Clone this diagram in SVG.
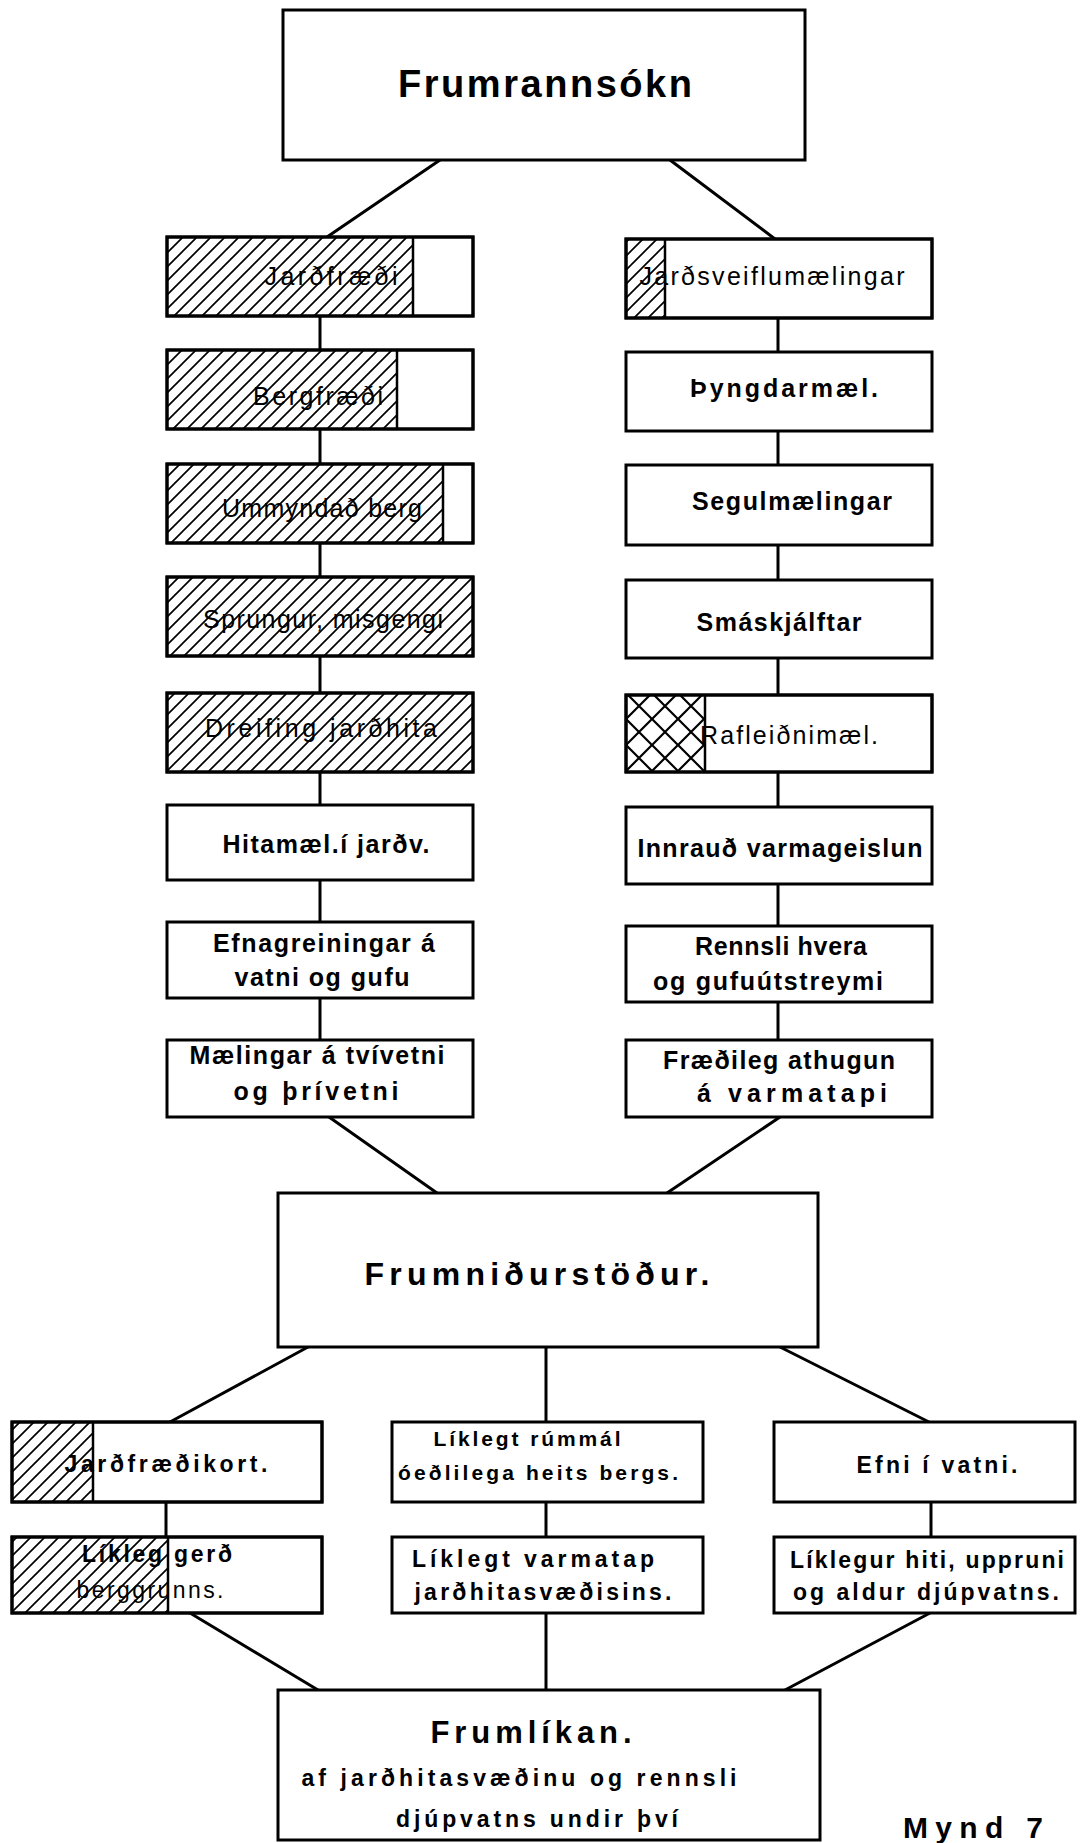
<svg xmlns="http://www.w3.org/2000/svg" width="1082" height="1843" viewBox="0 0 1082 1843">
<defs>
<pattern id="hatch" patternUnits="userSpaceOnUse" width="14" height="14">
<path d="M-2,16 L16,-2 M-9,9 L9,-9 M5,23 L23,5" stroke="#000" stroke-width="1.7" fill="none"/>
</pattern>
<pattern id="cross" patternUnits="userSpaceOnUse" x="626" y="693" width="26" height="26">
<path d="M0,0 L26,26 M26,0 L0,26" stroke="#000" stroke-width="2.2" fill="none"/>
</pattern>
<style>
.box{fill:#fff;stroke:#000;stroke-width:3}
.sep{stroke:#000;stroke-width:2.5}
.c{stroke:#000;stroke-width:3;fill:none;stroke-linecap:round}
text{font-family:"Liberation Sans",Arial,sans-serif;font-weight:bold;font-size:25px;text-anchor:middle;fill:#000}
.n{font-weight:normal}
.s{font-size:23px}
.xs{font-size:21px}
</style>
</defs>
<rect width="1082" height="1843" fill="#fff"/>

<g id="connectors">
<path class="c" d="M440,160 L327,237"/>
<path class="c" d="M670,160 L775,239"/>
<path class="c" d="M320,316 V350 M320,429 V464 M320,543 V577 M320,656 V693 M320,772 V805 M320,880 V922 M320,998 V1040"/>
<path class="c" d="M778,318 V352 M778,431 V465 M778,545 V580 M778,658 V695 M778,772 V807 M778,884 V926 M778,1002 V1040"/>
<path class="c" d="M329,1117 L437,1193"/>
<path class="c" d="M780,1117 L667,1193"/>
<path class="c" d="M308,1347 L170,1422"/>
<path class="c" d="M546,1347 V1422"/>
<path class="c" d="M780,1347 L929,1422"/>
<path class="c" d="M166,1502 V1537 M546,1502 V1537 M931,1502 V1537"/>
<path class="c" d="M190,1613 L318,1690"/>
<path class="c" d="M546,1613 V1690"/>
<path class="c" d="M930,1613 L785,1690"/>
</g>

<g id="frumrannsokn">
<rect class="box" x="283" y="10" width="522" height="150"/>
<text x="545" y="97" style="font-size:38px" textLength="294" lengthAdjust="spacing">Frumrannsókn</text>
</g>

<g id="jardfraedi">
<rect class="box" x="167" y="237" width="306" height="79"/>
<rect x="167" y="237" width="246" height="79" fill="url(#hatch)"/>
<line class="sep" x1="413" y1="237" x2="413" y2="316"/>
<rect x="167" y="237" width="306" height="79" fill="none" stroke="#000" stroke-width="3"/>
<text class="n" x="331" y="285" textLength="133" lengthAdjust="spacing">Jarðfræði</text>
</g>
<g id="bergfraedi">
<rect class="box" x="167" y="350" width="306" height="79"/>
<rect x="167" y="350" width="230" height="79" fill="url(#hatch)"/>
<line class="sep" x1="397" y1="350" x2="397" y2="429"/>
<rect x="167" y="350" width="306" height="79" fill="none" stroke="#000" stroke-width="3"/>
<text class="n" x="318" y="405" textLength="130" lengthAdjust="spacing">Bergfræði</text>
</g>
<g id="ummyndad">
<rect class="box" x="167" y="464" width="306" height="79"/>
<rect x="167" y="464" width="276" height="79" fill="url(#hatch)"/>
<line class="sep" x1="443" y1="464" x2="443" y2="543"/>
<rect x="167" y="464" width="306" height="79" fill="none" stroke="#000" stroke-width="3"/>
<text class="n" x="322" y="517" textLength="200" lengthAdjust="spacing">Ummyndað berg</text>
</g>
<g id="sprungur">
<rect class="box" x="167" y="577" width="306" height="79"/>
<rect x="167" y="577" width="306" height="79" fill="url(#hatch)"/>
<rect x="167" y="577" width="306" height="79" fill="none" stroke="#000" stroke-width="3"/>
<text class="n" x="323" y="628" textLength="240" lengthAdjust="spacing">Sprungur, misgengi</text>
</g>
<g id="dreifing">
<rect class="box" x="167" y="693" width="306" height="79"/>
<rect x="167" y="693" width="306" height="79" fill="url(#hatch)"/>
<rect x="167" y="693" width="306" height="79" fill="none" stroke="#000" stroke-width="3"/>
<text class="n" x="321" y="737" textLength="232" lengthAdjust="spacing">Dreifing jarðhita</text>
</g>
<g id="hitamael">
<rect class="box" x="167" y="805" width="306" height="75"/>
<text x="326" y="853" textLength="207" lengthAdjust="spacing">Hitamæl.í jarðv.</text>
</g>
<g id="efnagreiningar">
<rect class="box" x="167" y="922" width="306" height="76"/>
<text x="324" y="952" textLength="222" lengthAdjust="spacing">Efnagreiningar á</text>
<text x="322" y="986" textLength="175" lengthAdjust="spacing">vatni og gufu</text>
</g>
<g id="maelingar">
<rect class="box" x="167" y="1040" width="306" height="77"/>
<text x="317" y="1064" textLength="255" lengthAdjust="spacing">Mælingar á tvívetni</text>
<text x="316" y="1100" textLength="165" lengthAdjust="spacing">og þrívetni</text>
</g>

<g id="jardsveiflu">
<rect class="box" x="626" y="239" width="306" height="79"/>
<rect x="626" y="239" width="39" height="79" fill="url(#hatch)"/>
<line class="sep" x1="665" y1="239" x2="665" y2="318"/>
<rect x="626" y="239" width="306" height="79" fill="none" stroke="#000" stroke-width="3"/>
<text class="n" x="772" y="285" textLength="265" lengthAdjust="spacing">Jarðsveiflumælingar</text>
</g>
<g id="thyngdar">
<rect class="box" x="626" y="352" width="306" height="79"/>
<text x="784" y="397" textLength="188" lengthAdjust="spacing">Þyngdarmæl.</text>
</g>
<g id="segul">
<rect class="box" x="626" y="465" width="306" height="80"/>
<text x="792" y="510" textLength="200" lengthAdjust="spacing">Segulmælingar</text>
</g>
<g id="smaskjalftar">
<rect class="box" x="626" y="580" width="306" height="78"/>
<text x="779" y="631" textLength="165" lengthAdjust="spacing">Smáskjálftar</text>
</g>
<g id="rafleidni">
<rect class="box" x="626" y="695" width="306" height="77"/>
<rect x="626" y="695" width="79" height="77" fill="url(#cross)"/>
<line class="sep" x1="705" y1="695" x2="705" y2="772"/>
<rect x="626" y="695" width="306" height="77" fill="none" stroke="#000" stroke-width="3"/>
<text class="n" x="789" y="744" textLength="178" lengthAdjust="spacing">Rafleiðnimæl.</text>
</g>
<g id="innraud">
<rect class="box" x="626" y="807" width="306" height="77"/>
<text x="780" y="857" textLength="285" lengthAdjust="spacing">Innrauð varmageislun</text>
</g>
<g id="rennsli">
<rect class="box" x="626" y="926" width="306" height="76"/>
<text x="781" y="955" textLength="172" lengthAdjust="spacing">Rennsli hvera</text>
<text x="768" y="990" textLength="230" lengthAdjust="spacing">og gufuútstreymi</text>
</g>
<g id="fraedileg">
<rect class="box" x="626" y="1040" width="306" height="77"/>
<text x="779" y="1069" textLength="232" lengthAdjust="spacing">Fræðileg athugun</text>
<text x="792" y="1102" textLength="190" lengthAdjust="spacing">á varmatapi</text>
</g>

<g id="frumnidurstodur">
<rect class="box" x="278" y="1193" width="540" height="154"/>
<text x="537" y="1285" style="font-size:32px" textLength="345" lengthAdjust="spacing">Frumniðurstöður.</text>
</g>

<g id="jardfraedikort">
<rect class="box" x="12" y="1422" width="310" height="80"/>
<rect x="12" y="1422" width="81" height="80" fill="url(#hatch)"/>
<line class="sep" x1="93" y1="1422" x2="93" y2="1502"/>
<rect x="12" y="1422" width="310" height="80" fill="none" stroke="#000" stroke-width="3"/>
<text class="s" x="166" y="1472" textLength="203" lengthAdjust="spacing">Jarðfræðikort.</text>
</g>
<g id="likleg-gerd">
<rect class="box" x="12" y="1537" width="310" height="76"/>
<rect x="12" y="1537" width="156" height="76" fill="url(#hatch)"/>
<line class="sep" x1="168" y1="1537" x2="168" y2="1613"/>
<rect x="12" y="1537" width="310" height="76" fill="none" stroke="#000" stroke-width="3"/>
<text class="s" x="157" y="1562" textLength="150" lengthAdjust="spacing">Líkleg gerð</text>
<text class="s n" x="150" y="1598" textLength="147" lengthAdjust="spacing">berggrunns.</text>
</g>
<g id="rummal">
<rect class="box" x="392" y="1422" width="311" height="80"/>
<text class="xs" x="527" y="1446" textLength="187" lengthAdjust="spacing">Líklegt rúmmál</text>
<text class="xs" x="538" y="1480" textLength="280" lengthAdjust="spacing">óeðlilega heits bergs.</text>
</g>
<g id="varmatap">
<rect class="box" x="392" y="1537" width="311" height="76"/>
<text class="s" x="533" y="1567" textLength="242" lengthAdjust="spacing">Líklegt varmatap</text>
<text class="s" x="543" y="1600" textLength="257" lengthAdjust="spacing">jarðhitasvæðisins.</text>
</g>
<g id="efni-i-vatni">
<rect class="box" x="774" y="1422" width="301" height="80"/>
<text class="s" x="937" y="1473" textLength="161" lengthAdjust="spacing">Efni í vatni.</text>
</g>
<g id="likleg-hiti">
<rect class="box" x="774" y="1537" width="301" height="76"/>
<text class="s" x="927" y="1568" textLength="274" lengthAdjust="spacing">Líklegur hiti, uppruni</text>
<text class="s" x="926" y="1600" textLength="266" lengthAdjust="spacing">og aldur djúpvatns.</text>
</g>

<g id="frumlikan">
<rect class="box" x="278" y="1690" width="542" height="150"/>
<text x="531" y="1743" style="font-size:31px" textLength="201" lengthAdjust="spacing">Frumlíkan.</text>
<text class="s" x="519" y="1786" textLength="435" lengthAdjust="spacing">af jarðhitasvæðinu og rennsli</text>
<text class="s" x="537" y="1827" textLength="282" lengthAdjust="spacing">djúpvatns undir því</text>
</g>

<text x="973" y="1838" style="font-size:30px" textLength="140" lengthAdjust="spacing">Mynd 7</text>
</svg>
